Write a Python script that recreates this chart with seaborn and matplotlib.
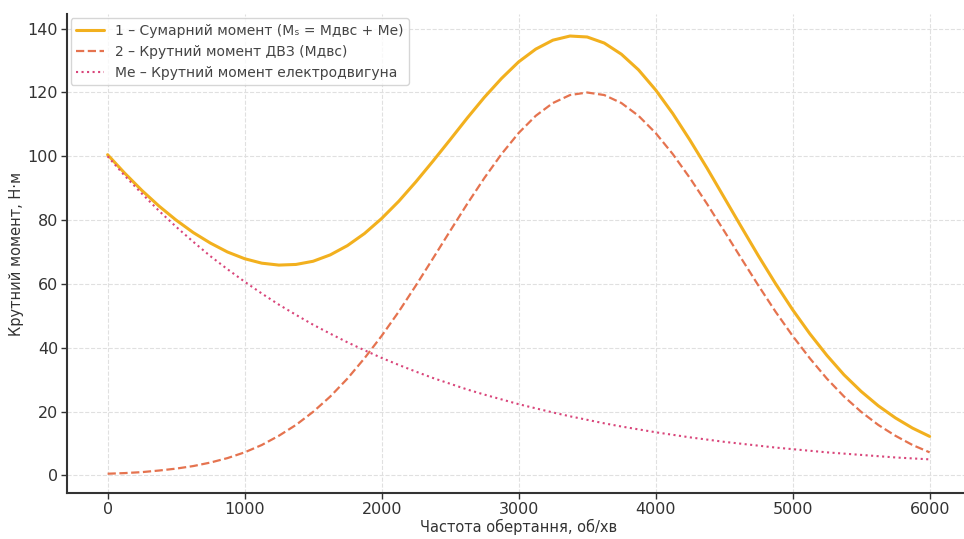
import pandas as pd
import matplotlib.pyplot as plt
import seaborn as sns

# частота обертання, об/хв (крок 125)
rpm = list(range(0, 6001, 125))

# крутний момент ДВЗ, Н·м
m_dvz = [0.5, 0.7, 1.0, 1.5, 2.1, 2.9, 4.0, 5.4, 7.2, 9.5, 12.4, 15.8, 19.9,
         24.7, 30.3, 36.7, 43.7, 51.3, 59.5, 68.0, 76.6, 85.1, 93.2, 100.7, 107.3,
         112.7, 116.7, 119.2, 120.0, 119.2, 116.7, 112.7, 107.3, 100.7, 93.2, 85.1,
         76.6, 68.0, 59.5, 51.3, 43.7, 36.7, 30.3, 24.7, 19.9, 15.8, 12.4, 9.5, 7.2]

# крутний момент електродвигуна, Н·м
m_e = [100.0, 93.9, 88.3, 82.9, 77.9, 73.2, 68.7, 64.6, 60.7, 57.0, 53.5, 50.3, 47.2,
       44.4, 41.7, 39.2, 36.8, 34.6, 32.5, 30.5, 28.7, 26.9, 25.3, 23.8, 22.3,
       21.0, 19.7, 18.5, 17.4, 16.3, 15.3, 14.4, 13.5, 12.7, 11.9, 11.2,
       10.5, 9.9, 9.3, 8.7, 8.2, 7.7, 7.2, 6.8, 6.4, 6.0, 5.6, 5.3, 5.0]

# сумарний момент, Н·м
m_sum = [100.5, 94.7, 89.3, 84.4, 80.0, 76.1, 72.8, 70.0, 67.9, 66.5, 65.9, 66.1, 67.1,
         69.1, 72.0, 75.8, 80.5, 85.9, 92.0, 98.5, 105.2, 112.0, 118.5, 124.4, 129.6,
         133.6, 136.4, 137.7, 137.4, 135.5, 132.0, 127.1, 120.8, 113.4, 105.1, 96.3,
         87.1, 77.9, 68.8, 60.1, 51.9, 44.4, 37.6, 31.5, 26.3, 21.8, 18.0, 14.8, 12.2]

labels = ['1 – Сумарний момент (Mₛ = Мдвс + Ме)',
          '2 – Крутний момент ДВЗ (Мдвс)',
          'Ме – Крутний момент електродвигуна']

df = pd.DataFrame({'rpm': rpm, 'sum': m_sum, 'dvz': m_dvz, 'e': m_e})

sns.set_style('whitegrid')
plt.rcParams['font.family'] = ['DejaVu Sans']

fig, ax = plt.subplots(figsize=(9.64, 5.39), dpi=100)
fig.subplots_adjust(left=0.069, right=1.007, bottom=0.085, top=0.974)

sns.lineplot(data=df, x='rpm', y='sum', ax=ax, color='#F2B01E', linewidth=2.2,
             label=labels[0])
sns.lineplot(data=df, x='rpm', y='dvz', ax=ax, color='#E5734F', linewidth=1.6,
             linestyle='--', label=labels[1])
sns.lineplot(data=df, x='rpm', y='e', ax=ax, color='#D9457A', linewidth=1.5,
             linestyle=':', label=labels[2])

ax.set_xlim(-300, 6300)
ax.set_ylim(-5.6, 144.6)
ax.set_xticks([0, 1000, 2000, 3000, 4000, 5000, 6000])
ax.set_yticks([0, 20, 40, 60, 80, 100, 120, 140])

ax.set_xlabel('Частота обертання, об/хв', fontsize=10.5, color='#333333', labelpad=2)
ax.set_ylabel('Крутний момент, Н·м', fontsize=10.5, color='#333333', labelpad=3)
ax.tick_params(axis='both', labelsize=11.5, colors='#333333', length=4, width=1,
               left=True, bottom=True, pad=2)
ax.grid(True, color='#e0e0e0', linestyle='--', linewidth=0.8)

sns.despine(ax=ax, top=True, right=True)
for side in ['left', 'bottom']:
    ax.spines[side].set_color('#333333')
    ax.spines[side].set_linewidth(1.5)

leg = ax.legend(loc='upper left', fontsize=10, frameon=True, borderaxespad=0.3)
leg.get_frame().set_edgecolor('#cccccc')
for t in leg.get_texts():
    t.set_color('#444444')

plt.savefig('out.png', dpi=100)
